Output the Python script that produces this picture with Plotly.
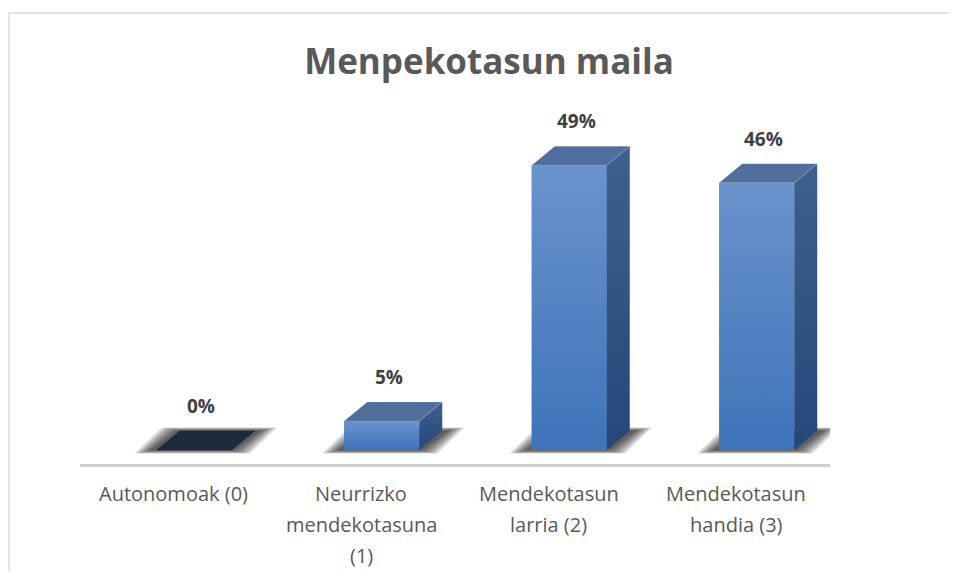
import plotly.graph_objects as go

# ---- data ----
categories = ["Autonomoak (0)", "Neurrizko<br>mendekotasuna<br>(1)",
              "Mendekotasun<br>larria (2)", "Mendekotasun<br>handia (3)"]
values = [0, 5, 49, 46]
value_labels = ["0%", "5%", "49%", "46%"]
title_text = "Menpekotasun maila"

# ---- geometry / style ----
OFF = 8  # page body margin
W, H = 957 - OFF, 579 - 2 * OFF
ML, MT = 80 - OFF, 80 - OFF
MR, MB = W - (830 - OFF), H - (464 - OFF)
plot_w = W - ML - MR
plot_h = H - MT - MB
YMIN, YMAX = -2.41, 63.68
px_x = plot_w / 4.0                 # px per category unit
px_y = plot_h / (YMAX - YMIN)       # px per % unit

bar_w = 75 / px_x
front_off = -17 / px_x
depth_x = 23 / px_x
depth_y = 19 / px_y

FONT = "Open Sans"
c_front_top, c_front_bot = "#6A93CC", "#3E73BA"
c_side_top, c_side_bot = "#3F5F8E", "#25487A"
c_top = "#4F6E9B"
c_zero = "#1E2A3A"

xs = list(range(len(values)))
fig = go.Figure()

# front faces (real bars)
fig.add_trace(go.Bar(
    x=xs, y=values, width=bar_w, offset=front_off,
    marker=dict(color="#4F80C3", line=dict(width=0)),
    hoverinfo="skip", showlegend=False))

for i, v in enumerate(values):
    x0 = i + front_off
    x1 = x0 + bar_w
    # shadow (blurred footprint) drawn below traces
    for k in range(1, 7):
        ex = k * 3.0 / px_x
        ey = k * 0.6 / px_y
        path = (f"M {x0 - ex - 4/px_x},{-ey} L {x1 + ex},{-ey} "
                f"L {x1 + depth_x + ex + 4/px_x},{depth_y + ey} "
                f"L {x0 + depth_x - ex},{depth_y + ey} Z")
        fig.add_shape(type="path", path=path, xref="x", yref="y",
                      fillcolor="rgba(0,0,0,0.15)", line=dict(width=0),
                      layer="below")
    if v > 0:
        # gradient overlay of the front face
        fig.add_trace(go.Scatter(
            x=[x0, x1, x1, x0, x0], y=[0, 0, v, v, 0],
            fill="toself", mode="lines", line=dict(width=0),
            fillgradient=dict(type="vertical",
                              colorscale=[[0, c_front_bot], [1, c_front_top]],
                              start=0, stop=v),
            hoverinfo="skip", showlegend=False))
        # side face
        fig.add_trace(go.Scatter(
            x=[x1, x1 + depth_x, x1 + depth_x, x1, x1],
            y=[0, depth_y, v + depth_y, v, 0],
            fill="toself", mode="lines", line=dict(width=0),
            fillgradient=dict(type="vertical",
                              colorscale=[[0, c_side_bot], [1, c_side_top]],
                              start=0, stop=v + depth_y),
            hoverinfo="skip", showlegend=False))
    # top face
    fig.add_trace(go.Scatter(
        x=[x0, x1, x1 + depth_x, x0 + depth_x, x0],
        y=[v, v, v + depth_y, v + depth_y, v],
        fill="toself", mode="lines",
        line=dict(width=0.6, color="rgba(255,255,255,0.25)" if v else c_zero),
        fillcolor=c_top if v else c_zero,
        hoverinfo="skip", showlegend=False))
    # value label
    fig.add_annotation(
        x=x0 + bar_w / 2 + 7 / px_x, y=v + depth_y, xref="x", yref="y",
        text=f"<b>{value_labels[i]}</b>", showarrow=False,
        yanchor="middle", yshift=25,
        font=dict(family=FONT, size=19, color="#404040"))

# category labels (line-by-line, Excel-like spacing)
for i, lab in enumerate(categories):
    for j, line in enumerate(lab.split("<br>")):
        fig.add_annotation(
            x=i, y=0, xref="x", yref="paper", text=line, showarrow=False,
            yanchor="top", yshift=-14 - 31 * j,
            font=dict(family=FONT, size=20, color="#595959"))

# outer chart border (top and left visible)
fig.add_shape(type="rect", xref="paper", yref="paper",
              x0=(9 - OFF - ML) / plot_w, x1=(W + 20 - ML) / plot_w,
              y0=-(H + 20 - (H - MB)) / plot_h, y1=((H - MB) - (13 - OFF)) / plot_h,
              line=dict(color="#D9D9D9", width=1.3), fillcolor="rgba(0,0,0,0)",
              layer="below")

fig.update_layout(
    width=W, height=H,
    margin=dict(l=ML, r=MR, t=MT, b=MB),
    paper_bgcolor="white", plot_bgcolor="white",
    barmode="overlay",
    title=dict(text=f"<b>{title_text}</b>", x=(489 - OFF) / W, xanchor="center",
               y=1 - (62 - OFF) / H, yanchor="middle", xref="container", yref="container",
               font=dict(family=FONT, size=35, color="#595959")),
    xaxis=dict(range=[-0.5, 3.5], showticklabels=False, ticks="",
               showgrid=False, zeroline=False,
               showline=True, linecolor="#CDCDCD", linewidth=3),
    yaxis=dict(range=[YMIN, YMAX], visible=False, showgrid=False, zeroline=False),
    showlegend=False,
)

fig.write_html("out.html")
